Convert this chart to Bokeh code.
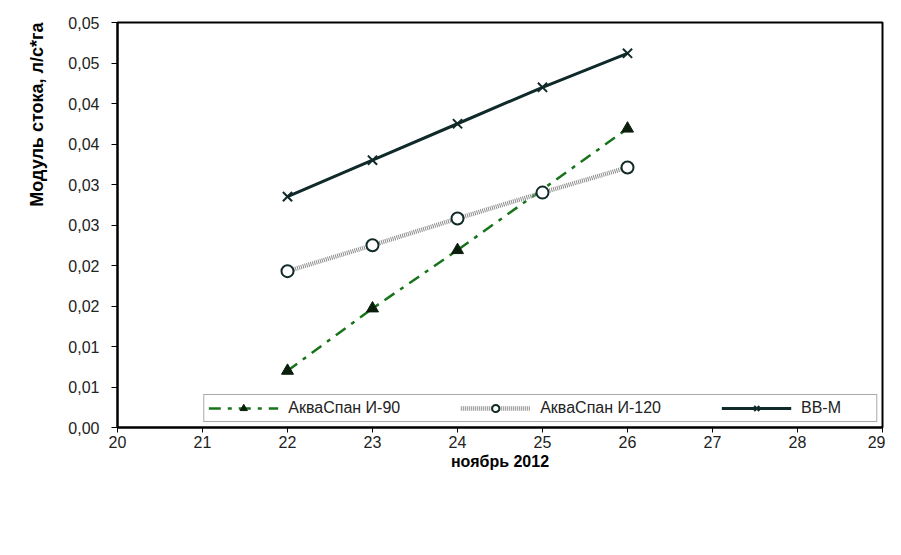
from bokeh.plotting import figure
from bokeh.models import FixedTicker, Legend, LegendItem, Range1d, Title
from bokeh.embed import file_html
from bokeh.resources import INLINE

# ---- data ----
days_i90 = [22, 23, 24, 26]
akvaspan_i90 = [0.0070, 0.0147, 0.0219, 0.0369]
days = [22, 23, 24, 25, 26]
akvaspan_i120 = [0.0193, 0.0225, 0.0258, 0.0290, 0.0321]
vv_m = [0.0285, 0.0330, 0.0375, 0.0420, 0.0462]

x_ticks = [20, 21, 22, 23, 24, 25, 26, 27, 28, 29]
y_tick_values = [0.0, 0.005, 0.01, 0.015, 0.02, 0.025, 0.03, 0.035, 0.04, 0.045, 0.05]
y_tick_labels = ["0,00", "0,01", "0,01", "0,02", "0,02", "0,03", "0,03", "0,04", "0,04", "0,05", "0,05"]

series_names = ["АкваСпан И-90", "АкваСпан И-120", "ВВ-М"]
x_title = "ноябрь 2012"
y_title = "Модуль стока, л/с*га"

FONT = "Liberation Sans"
GREEN = "#17741a"
DARK = "#0f2a28"

p = figure(frame_width=765, frame_height=405, x_range=Range1d(20, 29), y_range=Range1d(0, 0.05),
           output_backend="svg", toolbar_location=None,
           min_border_left=117, min_border_right=3, min_border_top=22, min_border_bottom=112)
p.background_fill_color = "white"
p.border_fill_color = "white"
p.outline_line_color = "black"
p.outline_line_width = 2
p.xgrid.visible = False
p.ygrid.visible = False

# axes
p.xaxis.ticker = FixedTicker(ticks=x_ticks)
p.yaxis.ticker = FixedTicker(ticks=y_tick_values)
p.yaxis.major_label_overrides = {v: l for v, l in zip(y_tick_values, y_tick_labels)}
for ax in (p.xaxis, p.yaxis):
    ax.axis_line_color = "black"
    ax.axis_line_width = 2
    ax.major_tick_line_color = "black"
    ax.major_tick_line_width = 1
    ax.major_tick_in = 0
    ax.minor_tick_line_color = None
    ax.major_label_text_font = FONT
    ax.major_label_text_font_size = "16px"
    ax.major_label_text_color = "#222222"
    ax.axis_label_text_font = FONT
    ax.axis_label_text_font_style = "bold"
    ax.axis_label_text_color = "black"
p.xaxis.major_tick_out = 5
p.xaxis.major_label_standoff = 3
p.yaxis.major_tick_out = 6
p.yaxis.major_label_standoff = 12
p.xaxis.axis_label = x_title
p.xaxis.axis_label_text_font_size = "16px"
p.xaxis.axis_label_standoff = 2

# y title placed at the top of the left side, as in the reference
p.add_layout(Title(text=y_title, align="right", text_font=FONT, text_font_size="18px",
                   text_font_style="bold", text_color="black", standoff=38), "left")

# series
l1 = p.line(days_i90, akvaspan_i90, line_color=GREEN, line_width=2.5, line_dash="12 7 4 7")
m1 = p.scatter(days_i90, akvaspan_i90, marker="triangle", size=12, fill_color="#0b1e0b",
               line_color="#0b1e0b")
l2 = p.line(days, akvaspan_i120, line_color="#8c8c8c", line_width=4.5, line_dash="1 1")
m2 = p.scatter(days, akvaspan_i120, marker="circle", size=12, fill_color="white",
               line_color=DARK, line_width=2)
l3 = p.line(days, vv_m, line_color=DARK, line_width=3)
m3 = p.scatter(days, vv_m, marker="x", size=13, line_color=DARK, line_width=2)

renderers = [[l1, m1], [l2, m2], [l3, m3]]
items = [LegendItem(label=n, renderers=rs) for n, rs in zip(series_names, renderers)]

leg = Legend(items=items, location="bottom_right", orientation="horizontal",
             padding=4, glyph_width=70, glyph_height=18, label_standoff=10,
             label_height=18, label_width=71, spacing=60, margin=5,
             label_text_font=FONT, label_text_font_size="16px",
             label_text_color="#222222",
             border_line_color="#555555", border_line_width=1.5,
             background_fill_color="white", background_fill_alpha=1)
p.add_layout(leg)

open("out.html", "w").write(file_html(p, INLINE))
